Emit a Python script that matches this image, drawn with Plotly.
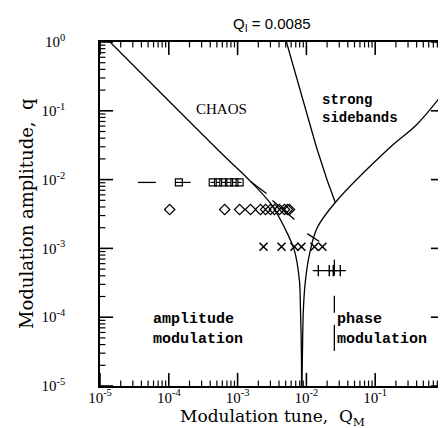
import plotly.graph_objects as go

# ---------------- data ----------------
title_text = "Q<sub>I</sub> = 0.0085"
x_title = "Modulation tune,  Q<sub>M</sub>"
y_title = "Modulation amplitude,  q"

tick_vals = [1e-5, 1e-4, 1e-3, 1e-2, 1e-1, 1e0]
tick_text = ["10<sup>-5</sup>", "10<sup>-4</sup>", "10<sup>-3</sup>",
             "10<sup>-2</sup>", "10<sup>-1</sup>", "10<sup>0</sup>"]

# left boundary (CHAOS / amplitude modulation)
left_qm = [1.40e-5, 7.16e-4, 1.40e-3, 3.01e-3, 4.80e-3, 6.70e-3, 7.92e-3, 8.19e-3, 8.47e-3, 8.50e-3]
left_q = [1.0, 1.97e-2, 1.04e-2, 4.50e-3, 2.01e-3, 9.29e-4, 3.40e-4, 1.37e-4, 2.83e-5, 1.0e-5]

# right boundary (phase modulation / strong sidebands)
right_qm = [8.60e-3, 8.75e-3, 9.06e-3, 9.68e-3, 1.105e-2, 1.44e-2, 2.63e-2, 0.165, 0.406, 1.0]
right_q = [1.0e-5, 2.83e-5, 1.37e-4, 3.40e-4, 8.13e-4, 2.01e-3, 4.65e-3, 2.95e-2, 6.38e-2, 0.187]

# steep boundary (CHAOS / strong sidebands)
steep_qm = [5.13e-3, 1.40e-2, 2.01e-2, 2.63e-2]
steep_q = [1.0, 2.95e-2, 9.73e-3, 4.65e-3]

# measured points
sq_qm = [1.40e-4, 4.35e-4, 5.20e-4, 6.20e-4, 7.50e-4, 9.00e-4, 1.07e-3]
sq_q = [9.1e-3] * 7
sq_err_plus = [6.8e-5, 3e-5, 3e-5, 4e-5, 5e-5, 6e-5, 7e-5]
sq_err_minus = [1.5e-5, 3e-5, 3e-5, 4e-5, 5e-5, 6e-5, 7e-5]
dash_qm = [3.56e-5, 6.49e-5]
dash_q = [9.1e-3, 9.1e-3]

dia_qm = [1.03e-4, 6.48e-4, 1.07e-3, 1.54e-3, 2.15e-3, 2.55e-3, 3.01e-3, 3.44e-3, 4.06e-3, 4.80e-3, 5.31e-3, 5.67e-3]
dia_q = [3.68e-3] * 12

crs_qm = [2.38e-3, 4.35e-3, 6.70e-3, 8.47e-3, 1.31e-2, 1.71e-2]
crs_q = [1.06e-3] * 6

pls_qm = [1.49e-2, 2.15e-2, 2.46e-2, 3.11e-2]
pls_q = [4.75e-4] * 4

# short measured-boundary segments
seg_qm = [1.54e-3, 2.63e-3, None, 3.21e-3, 6.70e-3, None, 1.03e-2, 1.54e-2]
seg_q = [9.41e-3, 6.29e-3, None, 4.98e-3, 2.63e-3, None, 1.64e-3, 1.26e-3]

# vertical line at 3*Q_I
vline_qm = [0.0255, 0.0255, None, 0.0255, 0.0255, None, 0.0255, 0.0255]
vline_q = [6.87e-4, 4.01e-4, None, 2.05e-4, 1.16e-4, None, 7.74e-5, 3.24e-5]

# ---------------- figure ----------------
BLACK = "black"
fig = go.Figure()
line_style = dict(color=BLACK, width=1.3)
fig.add_trace(go.Scatter(x=left_qm, y=left_q, mode="lines", line=line_style, line_shape="spline"))
fig.add_trace(go.Scatter(x=right_qm, y=right_q, mode="lines", line=line_style, line_shape="spline"))
fig.add_trace(go.Scatter(x=steep_qm, y=steep_q, mode="lines", line=line_style))
fig.add_trace(go.Scatter(x=seg_qm, y=seg_q, mode="lines", line=line_style, connectgaps=False))
fig.add_trace(go.Scatter(x=vline_qm, y=vline_q, mode="lines", line=line_style, connectgaps=False))
fig.add_trace(go.Scatter(x=dash_qm, y=dash_q, mode="lines", line=line_style))

fig.add_trace(go.Scatter(
    x=sq_qm, y=sq_q, mode="markers",
    marker=dict(symbol="square-open", size=7, color=BLACK, line=dict(width=1.2)),
    error_x=dict(type="data", symmetric=False, array=sq_err_plus, arrayminus=sq_err_minus,
                 color=BLACK, thickness=1.2, width=0)))
fig.add_trace(go.Scatter(
    x=dia_qm, y=dia_q, mode="markers",
    marker=dict(symbol="diamond-open", size=8, color=BLACK, line=dict(width=1.2))))
fig.add_trace(go.Scatter(
    x=crs_qm, y=crs_q, mode="markers",
    marker=dict(symbol="x-thin", size=8, color=BLACK, line=dict(width=1.5, color=BLACK))))
fig.add_trace(go.Scatter(
    x=pls_qm, y=pls_q, mode="markers",
    marker=dict(symbol="cross-thin", size=8, color=BLACK, line=dict(width=1.4, color=BLACK))))

# tick marks (inside, on all four sides), drawn through the axis scales
minor_vals = [m * 10.0 ** e for e in range(-5, 0) for m in range(2, 10)]
tick_shapes = []
for vals, fac, width in ((tick_vals, 1.55, 1.6), (minor_vals, 1.2, 1.2)):
    for v in vals:
        tick_shapes.append(dict(type="line", xref="x", yref="y", x0=v, x1=v, y0=1e-5, y1=1e-5 * fac,
                                line=dict(color=BLACK, width=width)))
        tick_shapes.append(dict(type="line", xref="x", yref="y", x0=v, x1=v, y0=1.0 / fac, y1=1.0,
                                line=dict(color=BLACK, width=width)))
        tick_shapes.append(dict(type="line", xref="x", yref="y", y0=v, y1=v, x0=1e-5, x1=1e-5 * fac,
                                line=dict(color=BLACK, width=width)))
        tick_shapes.append(dict(type="line", xref="x", yref="y", y0=v, y1=v, x0=1.0 / fac, x1=1.0,
                                line=dict(color=BLACK, width=width)))

axis_common = dict(
    type="log", range=[-5, 0], tickmode="array", tickvals=tick_vals, ticktext=tick_text,
    ticks="", showline=True, linecolor=BLACK, linewidth=1.5, mirror=True,
    showgrid=False, zeroline=False,
    tickfont=dict(family="Liberation Serif", size=15, color=BLACK),
)
fig.update_layout(
    xaxis=dict(**axis_common, ticklabelstandoff=-3),
    yaxis=dict(**axis_common, ticklabelstandoff=30),
)

text_font = dict(family="Liberation Mono", size=15, color=BLACK, weight="bold")
annotations = [
    dict(x=0.5, y=1, xref="paper", yref="paper", yanchor="bottom", yshift=6, text=title_text,
         showarrow=False, font=dict(family="Liberation Sans", size=15, color=BLACK)),
    dict(x=0.5, y=0, xref="paper", yref="paper", yanchor="middle", yshift=-31, text=x_title,
         showarrow=False, font=dict(family="DejaVu Serif", size=17, color=BLACK)),
    dict(x=0, y=0.5, xref="paper", yref="paper", xanchor="center", xshift=-74, text=y_title,
         textangle=-90, showarrow=False, font=dict(family="DejaVu Serif", size=18, color=BLACK)),
    dict(x=-3.232, y=-0.977, text="CHAOS", showarrow=False,
         font=dict(family="Liberation Serif", size=15, color=BLACK)),
    dict(x=-1.797, y=-0.977, text="strong<br>sidebands", showarrow=False, xanchor="left", align="left",
         font=dict(family="Liberation Mono", size=14, color=BLACK, weight="bold")),
    dict(x=-4.261, y=-4.184, text="amplitude<br>modulation", showarrow=False, xanchor="left", align="left",
         font=text_font),
    dict(x=-1.536, y=-4.176, xshift=-3, text="phase<br>modulation", showarrow=False, xanchor="left",
         align="left", font=text_font),
]
fig.update_layout(
    width=446, height=428, margin=dict(l=92, r=8, t=34, b=50),
    plot_bgcolor="white", paper_bgcolor="white", showlegend=False,
    annotations=annotations, shapes=tick_shapes,
)
fig.write_html("out.html")
